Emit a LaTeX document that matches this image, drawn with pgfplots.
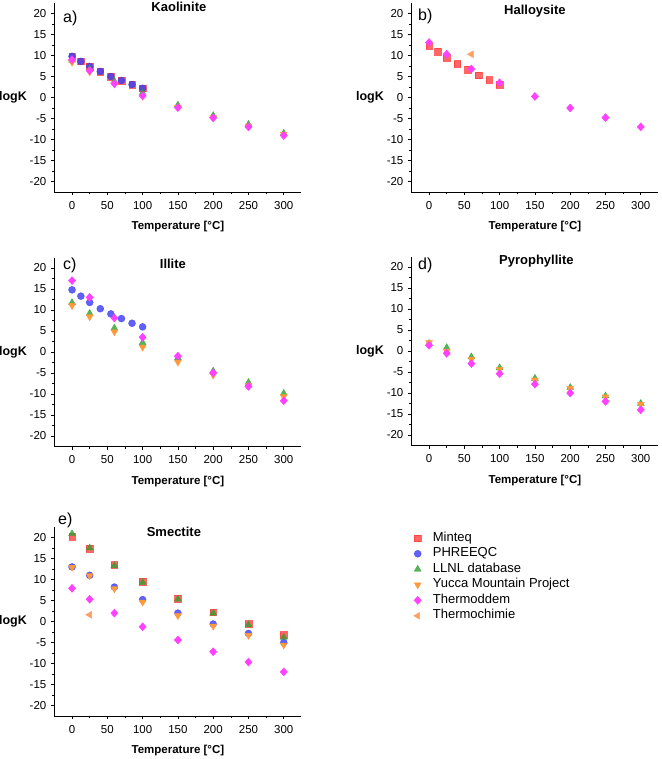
\documentclass[border=0pt]{standalone}
\usepackage{fontspec}
\setmainfont{Liberation Sans}
\usepackage{pgfplots}
\pgfplotsset{compat=1.18}
\definecolor{cMin}{HTML}{FF4040}
\definecolor{cPhr}{HTML}{3A3AF5}
\definecolor{cLln}{HTML}{30A030}
\definecolor{cYuc}{HTML}{FF9A3C}
\definecolor{cTdm}{HTML}{FF40FF}
\definecolor{cTch}{HTML}{FFA060}
\tikzset{letter/.style={font=\fontsize{16}{18}\selectfont, anchor=west, inner sep=0pt}}
\pgfplotsset{
  panel/.style={
    scale only axis, width=247pt, height=189pt, clip=false,
    xmin=-25, xmax=325, ymin=-22.5, ymax=22.5,
    axis x line*=bottom, axis y line*=left, axis line style={-, line width=0.7pt},
    xtick={0,50,...,300}, minor x tick num=1,
    ytick={-20,-15,...,20}, minor y tick num=1,
    tick align=outside, major tick length=3pt, minor tick length=2pt,
    tick style={black, line width=0.6pt},
    ticklabel style={font=\fontsize{11.5}{13}\selectfont},
    xticklabel style={yshift=-2.5pt},
    yticklabel style={xshift=-1.5pt},
    /pgf/number format/assume math mode=true,
    xlabel={Temperature [°C]},
    ylabel={logK},
    every axis x label/.style={at={(axis description cs:0.5,0)}, anchor=center, yshift=-35pt, font=\bfseries\fontsize{11.5}{13}\selectfont},
    every axis y label/.style={at={(axis description cs:0,0.5)}, anchor=east, xshift=-24pt, font=\bfseries\fontsize{12.5}{14}\selectfont},
    every axis title/.style={at={(axis description cs:0.5,1)}, anchor=center, font=\bfseries\fontsize{13}{15}\selectfont},
  },
  mk/.style={only marks, mark options={fill opacity=0.8, draw opacity=0.8}},
  sMin/.style={mk, mark=square*, mark size=3.3pt, color=cMin},
  sPhr/.style={mk, mark=*, mark size=3.5pt, color=cPhr},
  sLln/.style={mk, mark=triangle*, mark size=4pt, color=cLln},
  sYuc/.style={mk, mark=triangle*, mark size=4pt, color=cYuc, mark options={rotate=180}},
  sTdm/.style={mk, mark=diamond*, mark size=4pt, color=cTdm, mark options={xscale=1.2}},
  sTch/.style={mk, mark=triangle*, mark size=4pt, color=cTch, mark options={rotate=90}},
}
\begin{document}
\begin{tikzpicture}
\useasboundingbox (0,0) rectangle (661pt,-759pt);
% a) Kaolinite
\begin{axis}[panel, at={(54.4pt,-192pt)}, anchor=south west, title={Kaolinite}, title style={yshift=-3.7pt, xshift=1pt}]
\addplot[sMin] coordinates {(0,9.8) (12.5,8.6) (25,7.4) (40,6.2) (55,5.0) (70,4.05) (85,3.1) (100,2.2)};
\addplot[sPhr] coordinates {(0,9.8) (12.5,8.6) (25,7.4) (40,6.2) (55,5.0) (70,4.05) (85,3.1) (100,2.2)};
\addplot[sLln] coordinates {(0,8.9) (25,6.8) (60,3.9) (100,1.1) (150,-1.8) (200,-4.3) (250,-6.4) (300,-8.5)};
\addplot[sYuc] coordinates {(0,8.4) (25,6.1) (60,3.2) (100,0.3) (150,-2.3) (200,-4.8) (250,-6.8) (300,-8.7)};
\addplot[sTdm] coordinates {(0,9.0) (25,6.4) (60,3.3) (100,0.4) (150,-2.4) (200,-4.85) (250,-7.0) (300,-9.05)};
\node[letter] at (rel axis cs:0,1) [xshift=8.6pt, yshift=-15pt] {a)};
\end{axis}
% b) Halloysite
\begin{axis}[panel, at={(411.4pt,-192pt)}, anchor=south west, title={Halloysite}, title style={yshift=-7.7pt}]
\addplot[sMin] coordinates {(0,12.4) (12.5,10.9) (25,9.5) (40,8.0) (55,6.6) (70,5.3) (85,4.2) (100,3.1)};
\addplot[sTdm] coordinates {(0,13.1) (25,10.3) (60,6.8) (100,3.5) (150,0.25) (200,-2.5) (250,-4.8) (300,-7.0)};
\addplot[sTch] coordinates {(60,10.3)};
\node[letter] at (rel axis cs:0,1) [xshift=6.6pt, yshift=-13.7pt] {b)};
\end{axis}
% c) Illite
\begin{axis}[panel, at={(54.4pt,-446.5pt)}, anchor=south west, title={Illite}, title style={yshift=-6pt, xshift=-5pt}]
\addplot[sPhr] coordinates {(0,14.8) (12.5,13.3) (25,11.8) (40,10.3) (55,9.07) (70,7.96) (85,6.85) (100,5.98)};
\addplot[sLln] coordinates {(0,11.75) (25,9.2) (60,5.7) (100,2.25) (150,-1.4) (200,-4.55) (250,-7.25) (300,-9.85)};
\addplot[sYuc] coordinates {(0,11.05) (25,8.4) (60,4.8) (100,1.15) (150,-2.4) (200,-5.5) (250,-8.0) (300,-10.6)};
\addplot[sTdm] coordinates {(0,17.0) (25,13.0) (60,8.1) (100,3.5) (150,-1.0) (200,-4.95) (250,-8.2) (300,-11.6)};
\node[letter] at (rel axis cs:0,1) [xshift=8.6pt, yshift=-8pt] {c)};
\end{axis}
% d) Pyrophyllite
\begin{axis}[panel, at={(411.4pt,-445.5pt)}, anchor=south west, title={Pyrophyllite}, title style={yshift=-5pt, xshift=1.5pt}]
\addplot[sLln] coordinates {(0,1.8) (25,0.8) (60,-1.4) (100,-4.0) (150,-6.5) (200,-8.7) (250,-10.7) (300,-12.5)};
\addplot[sYuc] coordinates {(0,2.0) (25,0.0) (60,-2.0) (100,-4.4) (150,-6.9) (200,-8.9) (250,-10.9) (300,-12.7)};
\addplot[sTdm] coordinates {(0,1.35) (25,-0.55) (60,-3.0) (100,-5.4) (150,-7.9) (200,-10.0) (250,-12.0) (300,-14.0)};
\node[letter] at (rel axis cs:0,1) [xshift=6.6pt, yshift=-9pt] {d)};
\end{axis}
% e) Smectite
\begin{axis}[panel, at={(54.4pt,-716pt)}, anchor=south west, title={Smectite}, title style={yshift=-5.3pt, xshift=-4pt},
  legend style={at={(axis description cs:1.445,0.989)}, anchor=north west, draw=none, fill=none,
    font=\fontsize{13}{15}\selectfont, row sep=1.5pt, inner sep=2pt,
    nodes={inner sep=1pt, text height=9pt, text depth=3pt}},
  legend cell align=left,
  legend image code/.code={\draw[#1] plot coordinates {(0pt,0pt)}; \path (-4pt,0pt) (14pt,0pt);}]
\addplot[sMin] coordinates {(0,20.2) (25,17.35) (60,13.5) (100,9.5) (150,5.5) (200,2.2) (250,-0.55) (300,-3.2)};
\addlegendentry{Minteq}
\addplot[sPhr] coordinates {(0,13.0) (25,11.0) (60,8.2) (100,5.2) (150,2.0) (200,-0.6) (250,-2.85) (300,-5.0)};
\addlegendentry{PHREEQC}
\addplot[sLln] coordinates {(0,20.9) (25,17.5) (60,13.3) (100,9.3) (150,5.3) (200,2.0) (250,-0.8) (300,-3.8)};
\addlegendentry{LLNL database}
\addplot[sYuc] coordinates {(0,12.9) (25,10.9) (60,7.8) (100,4.6) (150,1.4) (200,-1.1) (250,-3.3) (300,-5.6)};
\addlegendentry{Yucca Mountain Project}
\addplot[sTdm] coordinates {(0,7.9) (25,5.3) (60,2.0) (100,-1.26) (150,-4.4) (200,-7.2) (250,-9.65) (300,-12.0)};
\addlegendentry{Thermoddem}
\addplot[sTch] coordinates {(25,1.6)};
\addlegendentry{Thermochimie}
\node[letter] at (rel axis cs:0,1) [xshift=3.6pt, yshift=7pt] {e)};
\end{axis}
\end{tikzpicture}
\end{document}
